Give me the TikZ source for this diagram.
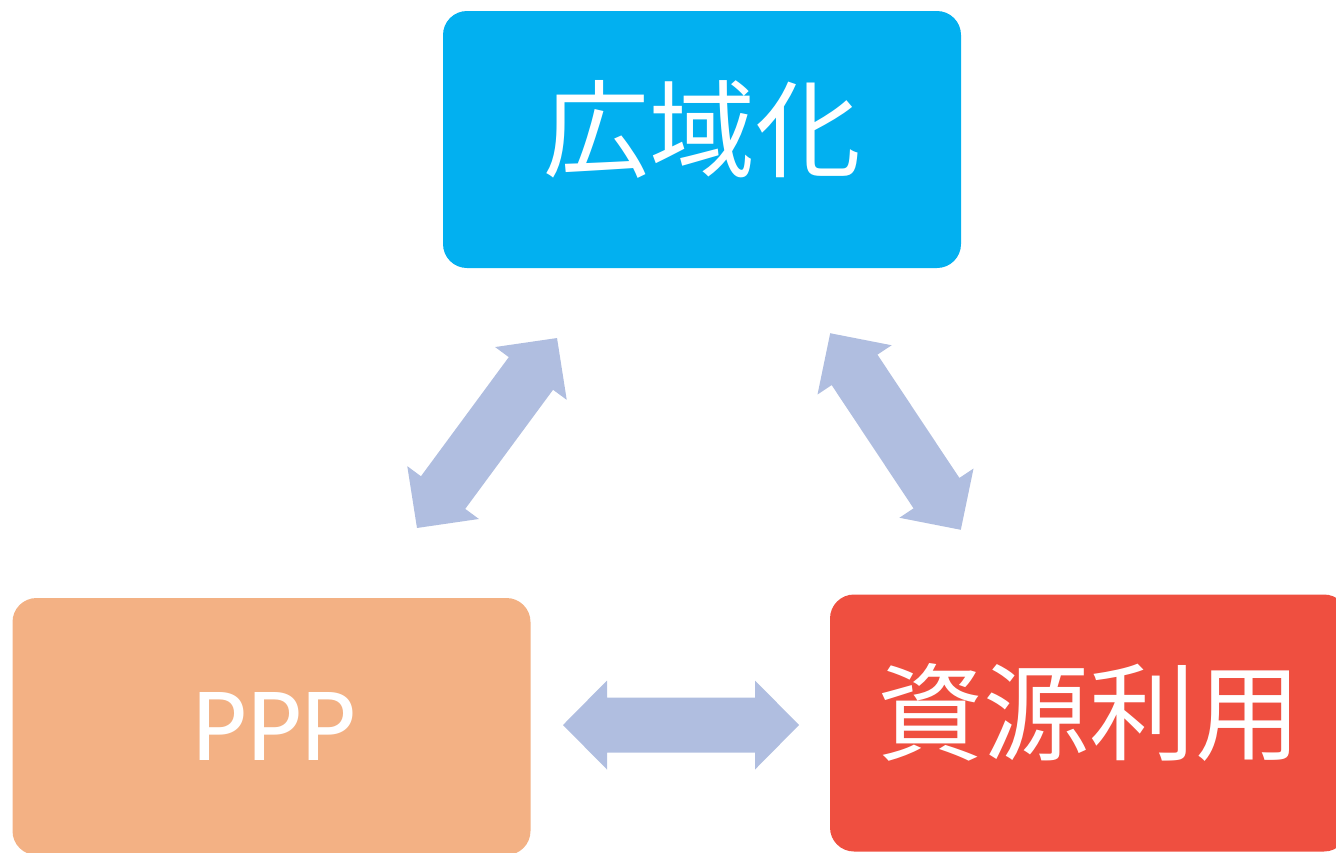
\documentclass[tikz,border=0pt]{standalone}
\usepackage{fontspec}
\setmainfont{Carlito}
\newfontfamily\cjk{Noto Sans CJK JP}
\usetikzlibrary{calc}
\definecolor{boxcyan}{RGB}{2,176,240}
\definecolor{boxorange}{RGB}{243,177,132}
\definecolor{boxred}{RGB}{239,79,64}
\definecolor{arrowblue}{RGB}{176,190,224}
\tikzset{
  box/.style={rounded corners=12pt, minimum width=259pt, minimum height=128.5pt, inner sep=0pt},
  lbl/.style={text=white, inner sep=0pt, font=\fontsize{53pt}{60pt}\selectfont},
  dblarrow/.style={fill=arrowblue}
}
\newcommand{\blockarrow}[2]{%
  \begin{scope}[shift={(#1)}, rotate=#2]
    \fill[dblarrow] (-118,0) -- (-74,44.5) -- (-74,27.5) -- (74,27.5) -- (74,44.5)
      -- (118,0) -- (74,-44.5) -- (74,-27.5) -- (-74,-27.5) -- (-74,-44.5) -- cycle;
  \end{scope}}
\begin{document}
\begin{tikzpicture}[x=0.5pt, y=-0.5pt]
  \useasboundingbox (0,0) rectangle (1336,852);
  \clip (0,0) rectangle (1336,852);
  % boxes
  \node[box, fill=boxcyan] (wide) at (702,139.5) {};
  \node[box, fill=boxorange] (ppp) at (271.5,726.5) {};
  \node[box, fill=boxred] (res) at (1089,723) {};
  % labels
  \node[lbl] (widet) at ($(wide)+(0,-10)$) {\cjk 広域化};
  \node[lbl] (pppt) at ($(ppp)+(3,0)$) {PPP};
  \node[lbl] (rest) at ($(res)+(0,-11)$) {\cjk 資源利用};
  % connectors (double block arrows)
  \coordinate (aL) at (487,433);
  \coordinate (aR) at (895.5,431.5);
  \coordinate (aB) at (681,725);
  \blockarrow{aL}{53.6}
  \blockarrow{aR}{-56.4}
  \blockarrow{aB}{0}
\end{tikzpicture}
\end{document}
